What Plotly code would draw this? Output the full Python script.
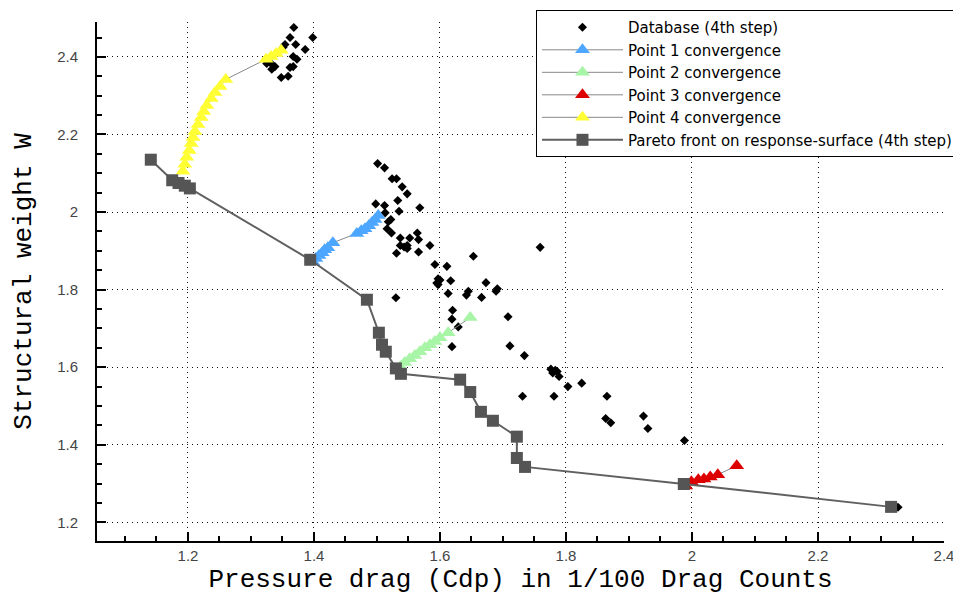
import plotly.graph_objects as go

# database samples (4th step)
db_x = [1.368, 1.362, 1.398, 1.354, 1.351, 1.371, 1.386, 1.367, 1.373, 1.325, 1.333, 1.338,
        1.333, 1.367, 1.362, 1.359, 1.348,
        1.501, 1.512, 1.524, 1.531, 1.540, 1.548, 1.533, 1.498, 1.512, 1.568, 1.535, 1.513,
        1.522, 1.518, 1.516, 1.523, 1.564, 1.537, 1.552, 1.566, 1.537, 1.543, 1.548, 1.548,
        1.584, 1.531, 1.566, 1.653, 1.759, 1.592, 1.611, 1.597, 1.600, 1.595, 1.597, 1.617,
        1.673, 1.613, 1.645, 1.642, 1.666, 1.691, 1.689, 1.530, 1.620, 1.619, 1.629, 1.708,
        1.619, 1.711, 1.734, 1.776, 1.783, 1.779, 1.786, 1.789, 1.803, 1.825, 1.731, 1.781,
        1.865, 1.863, 1.871, 1.923, 1.930, 1.988, 2.327]
db_y = [2.476, 2.450, 2.450, 2.432, 2.425, 2.432, 2.419, 2.401, 2.394, 2.383, 2.381, 2.375,
        2.368, 2.375, 2.373, 2.350, 2.347,
        2.125, 2.114, 2.086, 2.086, 2.065, 2.047, 2.030, 2.021, 2.017, 2.011, 2.002, 1.998,
        1.981, 1.975, 1.957, 1.946, 1.946, 1.933, 1.933, 1.929, 1.914, 1.910, 1.914, 1.906,
        1.914, 1.894, 1.897, 1.886, 1.909, 1.865, 1.860, 1.828, 1.825, 1.817, 1.813, 1.823,
        1.818, 1.790, 1.796, 1.786, 1.780, 1.802, 1.796, 1.779, 1.747, 1.724, 1.704, 1.730,
        1.653, 1.655, 1.630, 1.595, 1.592, 1.585, 1.589, 1.576, 1.550, 1.559, 1.525, 1.525,
        1.525, 1.468, 1.457, 1.474, 1.442, 1.411, 1.239]

p1_x = [1.398, 1.403, 1.408, 1.413, 1.417, 1.422, 1.430, 1.468, 1.475, 1.481, 1.487, 1.492, 1.497, 1.502]
p1_y = [1.872, 1.880, 1.888, 1.895, 1.903, 1.908, 1.921, 1.945, 1.952, 1.957, 1.965, 1.973, 1.981, 1.991]

p2_x = [1.537, 1.544, 1.552, 1.560, 1.568, 1.576, 1.584, 1.592, 1.600, 1.613, 1.648]
p2_y = [1.601, 1.612, 1.622, 1.630, 1.640, 1.650, 1.658, 1.666, 1.676, 1.689, 1.728]

p3_x = [1.990, 1.999, 2.010, 2.019, 2.029, 2.041, 2.071]
p3_y = [1.294, 1.305, 1.310, 1.312, 1.317, 1.323, 1.346]

p4_x = [1.192, 1.195, 1.198, 1.202, 1.205, 1.208, 1.211, 1.216, 1.221, 1.225, 1.230, 1.237,
        1.243, 1.251, 1.260, 1.324, 1.332, 1.340, 1.348]
p4_y = [2.105, 2.123, 2.141, 2.159, 2.177, 2.192, 2.208, 2.226, 2.244, 2.259, 2.275, 2.293,
        2.308, 2.324, 2.342, 2.394, 2.401, 2.409, 2.417]

pareto_x = [1.141, 1.175, 1.185, 1.195, 1.203, 1.394, 1.484, 1.503, 1.508, 1.514, 1.530,
            1.538, 1.632, 1.648, 1.665, 1.684, 1.722, 1.722, 1.735, 1.987, 2.316]
pareto_y = [2.135, 2.082, 2.075, 2.068, 2.061, 1.877, 1.774, 1.689, 1.658, 1.640, 1.597,
            1.583, 1.568, 1.536, 1.485, 1.462, 1.421, 1.366, 1.343, 1.299, 1.240]

fig = go.Figure()
fig.add_trace(go.Scatter(x=db_x, y=db_y, mode='markers', name='Database (4th step)',
                         marker=dict(color='black', size=7, symbol='diamond')))

conv = [(p1_x, p1_y, 'Point 1 convergence', '#4da6ff'),
        (p2_x, p2_y, 'Point 2 convergence', '#a8f5a8'),
        (p3_x, p3_y, 'Point 3 convergence', '#dd0000'),
        (p4_x, p4_y, 'Point 4 convergence', '#ffff33')]
for xs, ys, name, col in conv:
    fig.add_trace(go.Scatter(x=xs, y=ys, mode='lines+markers', name=name,
                             line=dict(color='#888888', width=1),
                             marker=dict(color=col, size=13, symbol='triangle-up')))

fig.add_trace(go.Scatter(x=pareto_x, y=pareto_y, mode='lines+markers',
                         name='Pareto front on response-surface (4th step)',
                         line=dict(color='#606060', width=2),
                         marker=dict(color='#555555', size=12, symbol='square')))

axis_common = dict(showline=True, linecolor='black', linewidth=2, mirror=False,
                   ticks='inside', ticklen=9, tickwidth=1.5, tickcolor='black',
                   showgrid=True, gridcolor='#111111', griddash='1px,4px', gridwidth=1,
                   zeroline=False, tickfont=dict(family='Liberation Sans', size=15, color='#444444'),
                   minor=dict(ticks='inside', ticklen=5, tickcolor='black', dtick=0.05, showgrid=False))

fig.update_xaxes(range=[1.0556, 2.4], dtick=0.2, tick0=1.2, ticklabelstandoff=0,
                 title=dict(text='Pressure drag (Cdp) in 1/100 Drag Counts', standoff=6,
                            font=dict(family='Liberation Mono', size=26, color='black')),
                 **axis_common)
fig.update_yaxes(range=[1.152, 2.49], dtick=0.2, tick0=1.2, ticklabelstandoff=14,
                 title=dict(text='Structural weight W', standoff=18,
                            font=dict(family='Liberation Mono', size=26, color='black')),
                 **axis_common)

# the page body adds an 8px offset, so the figure is sized to fit the window
fig.update_layout(width=953, height=590, paper_bgcolor='white', plot_bgcolor='white',
                  margin=dict(l=89, r=17, t=14, b=57, autoexpand=False),
                  legend=dict(x=1.0165, xanchor='right', y=1.023, yanchor='top',
                              bgcolor='white', bordercolor='black', borderwidth=1,
                              itemwidth=81, tracegroupgap=0,
                              font=dict(family='DejaVu Sans', size=15, color='black')))

fig.write_html('out.html')
